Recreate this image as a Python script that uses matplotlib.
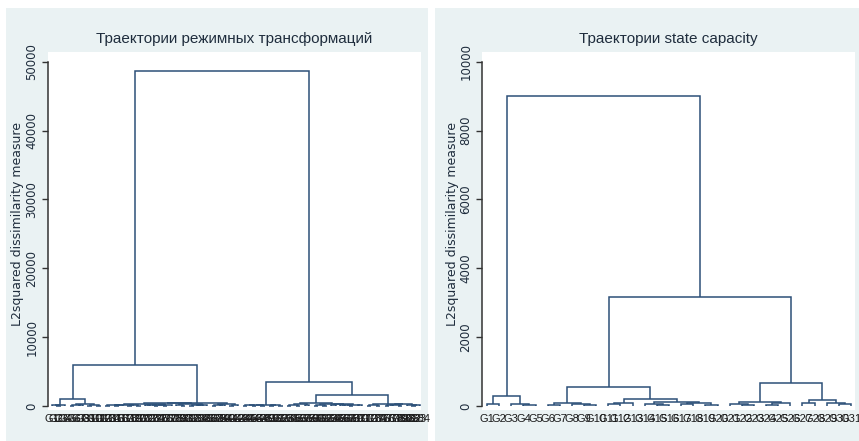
import numpy as np
import matplotlib.pyplot as plt
from matplotlib.patches import Rectangle

# heights at which neighbouring leaves (in plotted order) are joined
# left panel: regime transformation trajectories (84 leaves)
gaps_left = [80, 40, 150, 970, 60, 200, 90, 310, 50, 120, 70,          # LL
             5950,
             50, 120, 30, 90, 200, 60, 150, 40, 250, 80, 100, 70, 130,
             45, 180,                                                   # LR a1
             380,
             90, 60, 220, 35, 110, 75, 140,                             # LR a2
             480,
             60, 140, 90, 260, 50, 120,                                 # LR b
             48600,
             40, 90, 30, 120, 60, 150, 70, 100, 50,                     # RL
             3480,
             60, 130, 40, 220, 90, 420, 70, 180, 50, 300, 110, 260, 80,
             150, 40, 200, 90,                                          # RR a
             1600,
             50, 120, 70, 310, 40, 90, 180, 60, 250, 100, 45, 80]       # RR b
labels_left = ['G' + str(i) for i in range(1, len(gaps_left) + 2)]

# right panel: state capacity trajectories (31 leaves)
gaps_right = [60, 280, 50, 30, 9000, 40, 90, 60, 30, 544, 50, 80, 200,
              60, 40, 120, 50, 90, 30, 3180, 60, 30, 120, 40, 90, 660,
              100, 160, 80, 45]
labels_right = ['G1', 'G2', 'G3', 'G4', 'G5', 'G6', 'G7', 'G8', 'G9', 'G10',
                'G11', 'G12', 'G13', 'G14', 'G15', 'G16', 'G17', 'G18', 'G19',
                'G20', 'G21', 'G22', 'G23', 'G24', 'G25', 'G26', 'G27', 'G28',
                'G29', 'G30', 'G31']

titles = ['Траектории режимных трансформаций', 'Траектории state capacity']
yticks_left = [0, 10000, 20000, 30000, 40000, 50000]
yticks_right = [0, 2000, 4000, 6000, 8000, 10000]

BG = '#eaf2f3'
LINE = '#2c5078'
TXT = '#1f2d3d'
NARROW = ['Liberation Sans Narrow', 'Liberation Sans', 'DejaVu Sans']


def draw_tree(ax, gaps, lo, hi):
    if lo == hi:
        return float(lo), 0.0
    k = lo + int(np.argmax(gaps[lo:hi]))
    h = gaps[k]
    xl, hl = draw_tree(ax, gaps, lo, k)
    xr, hr = draw_tree(ax, gaps, k + 1, hi)
    ax.plot([xl, xl, xr, xr], [hl, h, h, hr], color=LINE, lw=1.1,
            solid_joinstyle='miter', solid_capstyle='butt')
    return (xl + xr) / 2, h


W, H = 859, 441
fig = plt.figure(figsize=(W / 100, H / 100), dpi=100)
fig.patch.set_facecolor('white')
fig.patches.append(Rectangle((6 / W, 0), 422 / W, 433 / H, transform=fig.transFigure,
                             facecolor=BG, edgecolor='none', zorder=-10))
fig.patches.append(Rectangle((435 / W, 0), 424 / W, 433 / H, transform=fig.transFigure,
                             facecolor=BG, edgecolor='none', zorder=-10))

panels = [(48, gaps_left, labels_left, yticks_left, 52, 420),
          (482, gaps_right, labels_right, yticks_right, 487, 851)]

for i, (x0, gaps, labs, yt, first, last) in enumerate(panels):
    ax = fig.add_axes([x0 / W, 31 / H, 373 / W, 358 / H])
    ax.set_zorder(1)
    ax.set_facecolor('white')
    n = len(labs)
    draw_tree(ax, np.array(gaps, dtype=float), 0, n - 1)
    step = (last - first) / (n - 1)
    ax.set_xlim(-(first - x0) / step, (n - 1) + (x0 + 373 - last) / step)
    top = yt[-1]
    per = top / 344.3
    ax.set_ylim(-4 * per, top + 9.7 * per)
    for s in ['top', 'right', 'bottom']:
        ax.spines[s].set_visible(False)
    ax.spines['left'].set_bounds(0, top)
    ax.spines['left'].set_color('#333333')
    ax.spines['left'].set_linewidth(1.1)
    ax.set_yticks(yt)
    ax.set_yticklabels([str(v) for v in yt], rotation=90, va='center',
                       fontsize=8.5, color=TXT)
    ax.tick_params(axis='y', direction='out', length=4, width=1, color='#333333', pad=3)
    ax.set_xticks(range(n))
    ax.set_xticklabels(labs, fontsize=8, color='#1a1a1a', family=NARROW)
    ax.tick_params(axis='x', length=0, pad=3)
    ax.set_ylabel('L2squared dissimilarity measure', fontsize=9, color=TXT)
    ax.yaxis.set_label_coords(-(x0 - (24 if i == 0 else 459)) / 373, 0.52)
    fig.text((x0 + 186.5) / W, 1 - 43 / H, titles[i], ha='center', va='baseline',
             fontsize=11, color=TXT, family=NARROW)

fig.savefig('out.png', dpi=100)
